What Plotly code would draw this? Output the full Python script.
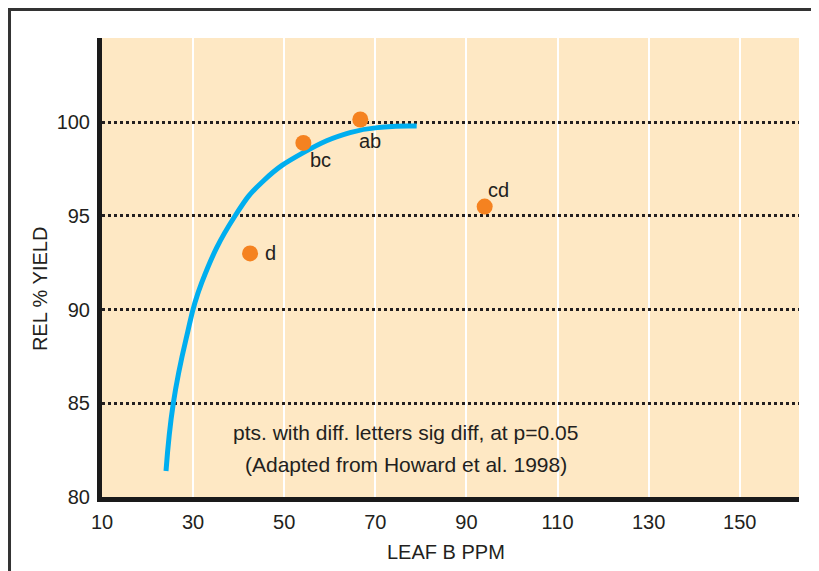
import plotly.graph_objects as go

# ---- data ----
pt_x = [42.5, 54.2, 66.7, 94.0]
pt_y = [93.0, 98.9, 100.15, 95.5]
pt_labels = ["d", "bc", "ab", "cd"]

curve_x = [24.05, 25.65, 28.44, 31.89, 39.19, 45.41, 54.19, 64.44, 72.0, 79.08]
curve_y = [81.39, 85.0, 88.42, 91.44, 95.0, 96.87, 98.38, 99.45, 99.75, 99.80]

x_ticks = [10, 30, 50, 70, 90, 110, 130, 150]
y_ticks = [80, 85, 90, 95, 100]

note_lines = ["pts. with diff. letters sig diff, at p=0.05", "(Adapted from Howard et al. 1998)"]

FONT = "Liberation Sans, Arial, Helvetica, sans-serif"
TXT = "#231F20"

fig = go.Figure()
fig.add_trace(go.Scatter(x=curve_x, y=curve_y, mode="lines",
                         line=dict(color="#00AEEF", width=5, shape="spline", smoothing=1.3),
                         hoverinfo="skip"))
fig.add_trace(go.Scatter(x=pt_x, y=pt_y, mode="markers",
                         marker=dict(color="#F58220", size=16, line=dict(width=0))))

shifts = {"d": (20, 0), "bc": (17, -17), "ab": (10, -21), "cd": (14, 17)}
for x, y, t in zip(pt_x, pt_y, pt_labels):
    dx, dy = shifts[t]
    fig.add_annotation(x=x, y=y, text=t, showarrow=False, xshift=dx, yshift=dy,
                       font=dict(size=20, color=TXT, family=FONT))

fig.add_annotation(x=76.7, y=83.42, text=note_lines[0], showarrow=False,
                   font=dict(size=21, color=TXT, family=FONT))
fig.add_annotation(x=76.7, y=81.71, text=note_lines[1], showarrow=False,
                   font=dict(size=21, color=TXT, family=FONT))

# axis titles
fig.add_annotation(xref="paper", yref="paper", x=-0.089, y=0.455, text="REL % YIELD",
                   xanchor="center", yanchor="middle",
                   textangle=-90, showarrow=False, font=dict(size=20, color=TXT, family=FONT))
fig.add_annotation(xref="paper", yref="paper", x=0.4935, y=-0.1198, text="LEAF B PPM",
                   xanchor="center", yanchor="middle",
                   showarrow=False, font=dict(size=20, color=TXT, family=FONT))

# outer frame (left and top edges of the boxed figure)
fig.add_shape(type="line", xref="paper", yref="paper", x0=-0.1327, x1=-0.1327, y0=1.0621, y1=-0.25,
              line=dict(color="#333333", width=3))
fig.add_shape(type="line", xref="paper", yref="paper", x0=-0.1349, x1=1.1, y0=1.0621, y1=1.0621,
              line=dict(color="#333333", width=3))

fig.update_xaxes(range=[10, 163], tickvals=x_ticks, ticktext=[str(v) for v in x_ticks],
                 showgrid=True, gridcolor="#FFFFFF", gridwidth=1.5,
                 showline=True, linecolor="#1a1a1a", linewidth=5,
                 ticks="outside", ticklen=3, tickcolor="rgba(0,0,0,0)",
                 tickfont=dict(size=20, color=TXT, family=FONT), zeroline=False)
fig.update_yaxes(range=[80, 104.5], tickvals=y_ticks, ticktext=[str(v) for v in y_ticks],
                 showgrid=True, gridcolor="#231F20", gridwidth=2.5, griddash="3px,3px",
                 showline=True, linecolor="#1a1a1a", linewidth=5,
                 ticks="outside", ticklen=3, tickcolor="rgba(0,0,0,0)",
                 tickfont=dict(size=20, color=TXT, family=FONT), zeroline=False)

fig.update_layout(width=811, height=563, margin=dict(l=94, r=20, t=30, b=74, autoexpand=False),
                  plot_bgcolor="#FEE8C4", paper_bgcolor="#FFFFFF", showlegend=False)

fig.write_html("out.html")
